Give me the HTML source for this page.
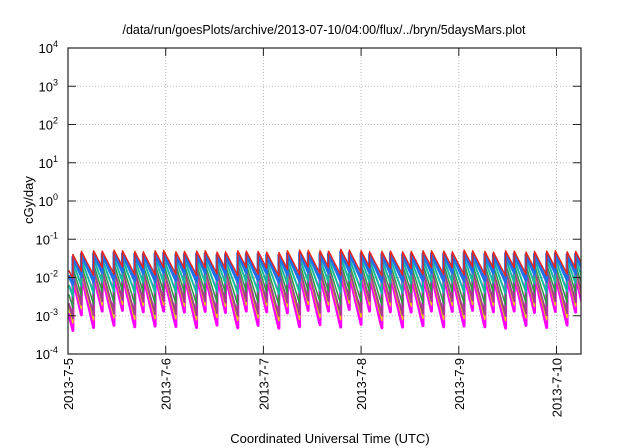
<!DOCTYPE html>
<html><head><meta charset="utf-8">
<style>
body{margin:0;background:#fff;}
svg{display:block;font-family:"Liberation Sans",sans-serif;}
</style></head>
<body>
<svg id="chart" width="640" height="448" viewBox="0 0 640 448">
<defs><clipPath id="plotclip"><rect x="68" y="48" width="513" height="306"/></clipPath></defs>
<text x="324" y="34" font-size="12.5" text-anchor="middle">/data/run/goesPlots/archive/2013-07-10/04:00/flux/../bryn/5daysMars.plot</text>
<text x="0" y="0" font-size="13" text-anchor="middle" transform="translate(33,200) rotate(-90)">cGy/day</text>
<text x="330" y="443" font-size="13" text-anchor="middle">Coordinated Universal Time (UTC)</text>
<g id="grid"></g>
<g id="series" clip-path="url(#plotclip)"></g>
<g id="axes"></g>
</svg>
<script>
// ---- data ----
const yTickExps = [-4,-3,-2,-1,0,1,2,3,4];
const xTickLabels = ["2013-7-5","2013-7-6","2013-7-7","2013-7-8","2013-7-9","2013-7-10"];
const peakHoursA = [1.2,6.3,11.3,16.4,21.4,26.5,31.6,36.6,41.7,46.7,51.8,56.9,61.9,67.0,72.0,77.1,82.2,87.2,92.3,97.3,102.4,107.5,112.5,117.6,122.6];
const pairOffsetHours = 2.1;
const redPeaks = [0.040,0.050,0.052,0.048,0.050,0.047,0.049,0.046,0.050,0.048,0.045,0.052,0.050,0.055,0.050,0.048,0.047,0.050,0.049,0.052,0.048,0.050,0.046,0.049,0.047,
                  0.048,0.049,0.050,0.047,0.051,0.048,0.050,0.047,0.049,0.046,0.050,0.051,0.049,0.052,0.047,0.049,0.048,0.050,0.047,0.050,0.046,0.049,0.048,0.050,0.048];
const seriesNames = ["red","blue","teal","green","purple","yellow","magenta"];
const seriesColors = ["#e8231a","#1f6fe8","#12b8a0","#2a9a40","#a0408a","#e8d000","#ff00ff"];
const seriesScale = [1.0,0.85,0.62,0.45,0.32,0.28,0.24];
const seriesDecay = [0.48,0.55,0.68,0.80,0.90,0.95,1.05];
const seriesWidth = [1.5,3,2,1.5,2,1.5,3];
const totalHours = 126.6;
// ---- axes ----
const L=68,R=581,T=48,B=354;
const NS="http://www.w3.org/2000/svg";
const xS=h=>L+(h/24)*97.7;
const yS=v=>B-(Math.log10(v)+4)*(B-T)/8;
function mk(tag,attrs,parent){const e=document.createElementNS(NS,tag);for(const k in attrs)e.setAttribute(k,attrs[k]);parent.appendChild(e);return e;}
const grid=document.getElementById('grid'),axes=document.getElementById('axes'),ser=document.getElementById('series');
yTickExps.forEach(ex=>{
  const y=yS(Math.pow(10,ex));
  if(ex>-4&&ex<4){const g=mk('line',{x1:L,x2:R,y1:y,y2:y,stroke:'#bbb','stroke-dasharray':'1,2','stroke-width':1},grid);
  
  }
  const t1=mk('line',{x1:L,x2:L+8,y1:y,y2:y,stroke:'#222'},axes);
  
  
  const t2=mk('line',{x1:R-8,x2:R,y1:y,y2:y,stroke:'#222'},axes);
  
  
  const tx=mk('text',{x:L-10,y:y+5,'font-size':13,'text-anchor':'end'},axes);
  
  
  tx.textContent='10';
  const sp=mk('tspan',{dy:-6,'font-size':9},tx);sp.textContent=String(ex);
});
xTickLabels.forEach((lab,i)=>{
  const x=xS(i*24);
  if(i>0){const g=mk('line',{x1:x,x2:x,y1:T,y2:B,stroke:'#bbb','stroke-dasharray':'1,2'},grid);
  
  }
  const t1=mk('line',{x1:x,x2:x,y1:B-8,y2:B,stroke:'#222'},axes);
  
  
  const t2=mk('line',{x1:x,x2:x,y1:T,y2:T+8,stroke:'#222'},axes);
  
  
  const tx=mk('text',{x:0,y:0,'font-size':13,'text-anchor':'end',transform:`translate(${x+5},${B+4}) rotate(-90)`},axes);
  
  
  tx.textContent=lab;
});
const frame=mk('rect',{x:L,y:T,width:R-L,height:B-T,fill:'none',stroke:'#222','stroke-width':1.2},axes);


// ---- series ----
const peaks=[];
peakHoursA.forEach((h,i)=>{peaks.push({h:h,v:redPeaks[i]});peaks.push({h:h+pairOffsetHours,v:redPeaks[25+i]});});
peaks.sort((a,b)=>a.h-b.h);
for(let s=seriesNames.length-1;s>=0;s--){
  const pts=[];
  const sc=seriesScale[s],k=seriesDecay[s];
  let prev={h:peaks[0].h-3,v:peaks[0].v};
  const all=[prev].concat(peaks);
  for(let i=0;i<all.length;i++){
    const p=all[i];const end=i+1<all.length?all[i+1].h:totalHours;
    for(let h=p.h;h<end;h+=0.25){
      if(h<0)continue;
      pts.push([xS(h),yS(p.v*sc*Math.exp(-k*(h-p.h)))]);
    }
    const endV=p.v*sc*Math.exp(-k*(end-p.h));
    if(end>=0)pts.push([xS(Math.min(end,totalHours)),yS(endV)]);
  }
  const path=mk('polyline',{points:pts.map(p=>p[0].toFixed(1)+','+p[1].toFixed(1)).join(' '),fill:'none',stroke:seriesColors[s],'stroke-width':seriesWidth[s],'stroke-linejoin':'round'},ser);
  
  
}
</script>
</body></html>
